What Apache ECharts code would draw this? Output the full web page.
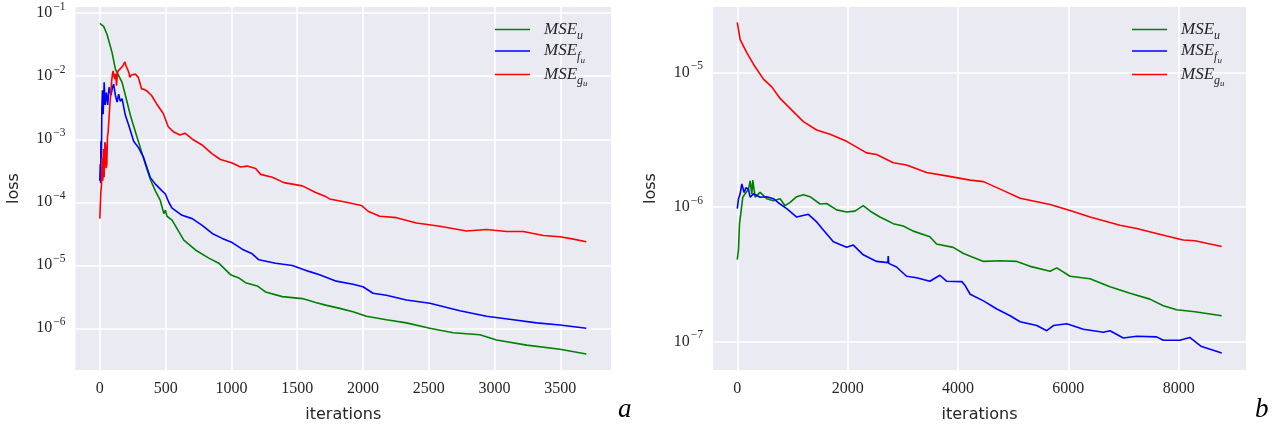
<!DOCTYPE html>
<html>
<head>
<meta charset="utf-8">
<script src="https://cdn.jsdelivr.net/npm/echarts@6/dist/echarts.min.js"></script>
<style>
  html, body { margin: 0; padding: 0; background: #fff; }
  #chart { width: 1283px; height: 428px; }
</style>
</head>
<body>
<div id="chart"></div>
<script>
// panel a : [iteration, loss]
const aMseU = [[0,6.9e-2],[29,6.2e-2],[55,4.6e-2],[93,2.37e-2],[118,1.3e-2],[169,8e-3],[194,5e-3],[232,2.4e-3],[270,1.32e-3],[308,7.3e-4],[346,4.0e-4],[384,2.3e-4],[422,1.52e-4],[460,1.06e-4],[486,6.6e-5],[498,7.5e-5],[510,6e-5],[549,5.2e-5],[638,2.5e-5],[727,1.75e-5],[828,1.3e-5],[904,1.08e-5],[993,7.1e-6],[1056,6.3e-6],[1107,5.3e-6],[1196,4.7e-6],[1259,3.77e-6],[1387,3.18e-6],[1539,2.96e-6],[1640,2.56e-6],[1716,2.33e-6],[1823,2.07e-6],[1924,1.83e-6],[2026,1.55e-6],[2178,1.37e-6],[2330,1.22e-6],[2508,1.0e-6],[2685,8.5e-7],[2888,7.9e-7],[3015,6.5e-7],[3244,5.4e-7],[3497,4.66e-7],[3697,3.9e-7]];
const aMseF = [[0,2.2e-4],[3,4e-4],[6,2.0e-4],[8,9.3e-4],[12,5e-4],[15,3.0e-3],[20,6e-3],[25,2.5e-3],[30,5e-3],[33,8e-3],[40,3.5e-3],[50,5.5e-3],[60,3.5e-3],[70,6.7e-3],[85,5e-3],[95,6.5e-3],[105,7.5e-3],[118,5e-3],[131,3.9e-3],[143,5.2e-3],[155,4.0e-3],[169,4.4e-3],[194,2.4e-3],[219,1.68e-3],[257,9.3e-4],[295,7.3e-4],[333,5.1e-4],[359,3.5e-4],[384,2.46e-4],[422,1.94e-4],[473,1.52e-4],[498,1.35e-4],[524,1.0e-4],[549,8.1e-5],[625,6.2e-5],[702,5.5e-5],[778,4.3e-5],[854,3.2e-5],[930,2.67e-5],[1006,2.29e-5],[1082,1.8e-5],[1158,1.52e-5],[1209,1.22e-5],[1336,1.08e-5],[1463,9.9e-6],[1589,8.0e-6],[1670,7.1e-6],[1797,5.6e-6],[1924,5.0e-6],[2000,4.56e-6],[2076,3.6e-6],[2178,3.34e-6],[2330,2.82e-6],[2508,2.5e-6],[2736,1.9e-6],[2939,1.55e-6],[3142,1.37e-6],[3320,1.22e-6],[3497,1.13e-6],[3697,1.0e-6]];
const aMseG = [[0,5.5e-5],[3,8.4e-5],[8,1.5e-4],[13,1.9e-4],[18,5.1e-4],[23,2.2e-4],[28,7e-4],[33,2.5e-4],[38,9e-4],[43,8.2e-4],[48,3.5e-4],[53,4e-4],[58,1.1e-3],[63,1.3e-3],[70,2.2e-3],[76,3.5e-3],[82,5e-3],[89,8e-3],[95,1.05e-2],[101,1.22e-2],[108,1.0e-2],[114,9e-3],[120,1.1e-2],[127,7.1e-3],[133,1.1e-2],[139,1.22e-2],[152,1.3e-2],[165,1.38e-2],[178,1.5e-2],[190,1.69e-2],[200,1.45e-2],[210,1.3e-2],[220,1.15e-2],[228,9.6e-3],[240,1.05e-2],[254,1.12e-2],[270,1.08e-2],[292,9.6e-3],[305,7.8e-3],[317,6.3e-3],[335,6.2e-3],[355,5.9e-3],[393,4.95e-3],[431,3.67e-3],[482,2.57e-3],[520,1.58e-3],[558,1.32e-3],[609,1.17e-3],[647,1.25e-3],[710,9.8e-4],[774,8.2e-4],[854,5.85e-4],[917,4.77e-4],[1006,4.2e-4],[1069,3.62e-4],[1120,3.75e-4],[1184,3.44e-4],[1222,2.77e-4],[1311,2.5e-4],[1399,2.05e-4],[1539,1.82e-4],[1640,1.43e-4],[1716,1.23e-4],[1747,1.13e-4],[1874,1.0e-4],[1988,8.9e-5],[2039,7.2e-5],[2127,6.0e-5],[2254,5.7e-5],[2406,4.7e-5],[2584,4.17e-5],[2787,3.5e-5],[2939,3.7e-5],[3091,3.43e-5],[3218,3.43e-5],[3371,2.97e-5],[3497,2.83e-5],[3600,2.6e-5],[3697,2.37e-5]];

// panel b : [iteration, loss]
const bMseU = [[0,4.05e-7],[22,4.8e-7],[40,7.5e-7],[64,8.9e-7],[100,1.18e-6],[142,1.25e-6],[203,1.35e-6],[233,1.56e-6],[263,1.25e-6],[281,1.58e-6],[323,1.18e-6],[414,1.28e-6],[534,1.15e-6],[655,1.11e-6],[776,1.15e-6],[866,1.02e-6],[957,1.08e-6],[1077,1.19e-6],[1198,1.23e-6],[1319,1.19e-6],[1500,1.05e-6],[1620,1.06e-6],[1801,9.5e-7],[1982,9.15e-7],[2133,9.3e-7],[2283,1.02e-6],[2434,9.15e-7],[2585,8.4e-7],[2706,7.95e-7],[2827,7.5e-7],[3008,7.2e-7],[3189,6.6e-7],[3491,6.0e-7],[3611,5.3e-7],[3913,5.0e-7],[4100,4.5e-7],[4462,3.93e-7],[4764,3.97e-7],[5066,3.93e-7],[5307,3.61e-7],[5669,3.32e-7],[5790,3.52e-7],[6031,3.05e-7],[6393,2.92e-7],[6755,2.55e-7],[7117,2.28e-7],[7479,2.06e-7],[7721,1.84e-7],[7962,1.72e-7],[8294,1.66e-7],[8780,1.55e-7]];
const bMseF = [[0,9.7e-7],[22,1.15e-6],[52,1.25e-6],[82,1.48e-6],[124,1.28e-6],[160,1.39e-6],[203,1.35e-6],[233,1.18e-6],[293,1.25e-6],[414,1.18e-6],[534,1.19e-6],[655,1.15e-6],[776,1.05e-6],[896,9.7e-7],[1077,8.4e-7],[1288,8.8e-7],[1439,7.73e-7],[1560,6.72e-7],[1741,5.5e-7],[1982,5.0e-7],[2103,5.2e-7],[2283,4.4e-7],[2525,3.93e-7],[2730,3.85e-7],[2736,4.3e-7],[2745,3.8e-7],[2887,3.57e-7],[3068,3.05e-7],[3249,2.97e-7],[3491,2.8e-7],[3672,3.1e-7],[3792,2.8e-7],[4070,2.78e-7],[4130,2.6e-7],[4221,2.24e-7],[4462,2.0e-7],[4704,1.74e-7],[4945,1.55e-7],[5126,1.4e-7],[5428,1.31e-7],[5609,1.2e-7],[5729,1.31e-7],[5971,1.35e-7],[6273,1.23e-7],[6635,1.17e-7],[6755,1.2e-7],[6997,1.06e-7],[7238,1.09e-7],[7600,1.08e-7],[7721,1.02e-7],[8022,1.02e-7],[8200,1.07e-7],[8402,9.2e-8],[8780,8.2e-8]];
const bMseG = [[0,2.35e-5],[52,1.75e-5],[172,1.4e-5],[293,1.15e-5],[474,8.9e-6],[625,7.8e-6],[776,6.4e-6],[957,5.4e-6],[1198,4.3e-6],[1439,3.73e-6],[1681,3.47e-6],[1982,3.07e-6],[2344,2.52e-6],[2525,2.45e-6],[2827,2.13e-6],[3068,2.05e-6],[3430,1.8e-6],[3792,1.7e-6],[4221,1.58e-6],[4462,1.54e-6],[4824,1.32e-6],[5126,1.16e-6],[5669,1.04e-6],[6031,9.4e-7],[6393,8.4e-7],[6936,7.3e-7],[7238,6.9e-7],[7781,6.07e-7],[8082,5.67e-7],[8294,5.6e-7],[8780,5.07e-7]];

const seriesNames = ['MSE_u', 'MSE_fu', 'MSE_gu'];
const lineColors = ['#008000', '#0000ff', '#ff0000'];

const textColor = '#262626';
const serif = 'Liberation Serif';

let chart = echarts.init(document.getElementById('chart'));

// 10^-n tick labels
function powLabel (v) {
  let e = Math.round(Math.log10(v));
  return '{b|10}{e|' + (e < 0 ? '\u2212' + (-e) : e) + '}';
}
const powRich = {
  b: { fontFamily: serif, fontSize: 16, color: textColor },
  e: { fontFamily: serif, fontSize: 11.5, color: textColor, padding: [0, 0, 12, 1] }
};

function legendLabel (name) {
  if (name === 'MSE_u') return '{m|MSE}{s|u}';
  if (name === 'MSE_fu') return '{m|MSE}{s|f}{ss|u}';
  return '{m|MSE}{s|g}{ss|u}';
}
const legendRich = {
  m: { fontFamily: serif, fontStyle: 'italic', fontSize: 17, color: textColor },
  s: { fontFamily: serif, fontStyle: 'italic', fontSize: 12, color: textColor, padding: [12, 0, 0, 0] },
  ss: { fontFamily: serif, fontStyle: 'italic', fontSize: 9, color: textColor, padding: [19, 0, 0, 0] }
};

function xAxis (idx, min, max, split) {
  return {
    type: 'value', gridIndex: idx, min: min, max: max, splitNumber: split,
    name: 'iterations', nameLocation: 'middle', nameGap: 37,
    nameTextStyle: { fontFamily: 'DejaVu Sans', fontSize: 16, color: textColor },
    axisLine: { show: false },
    axisTick: { show: false },
    axisLabel: {
      showMinLabel: false, showMaxLabel: false, margin: 11,
      formatter: function (v) { return String(v); },
      fontFamily: serif, fontSize: 16, color: textColor
    },
    splitLine: { show: true, showMinLine: false, showMaxLine: false, lineStyle: { color: '#ffffff', width: 1.6 } }
  };
}

function yAxis (idx, min, max) {
  return {
    type: 'log', logBase: 10, gridIndex: idx, min: min, max: max,
    name: 'loss', nameLocation: 'middle', nameGap: 54, nameRotate: 90,
    nameTextStyle: { fontFamily: 'DejaVu Sans', fontSize: 16, color: textColor },
    axisLine: { show: false },
    axisTick: { show: false },
    axisLabel: {
      showMinLabel: false, showMaxLabel: false, margin: 10,
      formatter: powLabel, rich: powRich
    },
    splitLine: { show: true, showMinLine: false, showMaxLine: false, lineStyle: { color: '#ffffff', width: 1.6 } },
    minorSplitLine: { show: false }
  };
}

function lineSeries (name, idx, data, color) {
  return {
    name: name, type: 'line', xAxisIndex: idx, yAxisIndex: idx,
    data: data, symbol: 'none', animation: false,
    lineStyle: { color: color, width: 1.6 },
    itemStyle: { color: color }
  };
}

function legend (left) {
  return {
    data: seriesNames, orient: 'vertical', left: left, top: 16,
    itemWidth: 35, itemHeight: 10, itemGap: 1,
    icon: 'path://M0,0 L35,0 L35,1.5 L0,1.5 Z',
    formatter: legendLabel,
    textStyle: { rich: legendRich, padding: [0, 0, 0, 9] }
  };
}

let option = {
  backgroundColor: '#ffffff',
  animation: false,
  grid: [
    { left: 75.5, right: 672, top: 7, bottom: 53, show: true, backgroundColor: '#EAEAF2', borderWidth: 0 },
    { left: 713, right: 37, top: 7, bottom: 53, show: true, backgroundColor: '#EAEAF2', borderWidth: 0 }
  ],
  xAxis: [xAxis(0, -185, 3885, 8), xAxis(1, -440, 9220, 5)],
  yAxis: [yAxis(0, Math.pow(10, -6.662), Math.pow(10, -0.901)), yAxis(1, Math.pow(10, -7.213), Math.pow(10, -4.514))],
  legend: [legend(490), legend(1127)],
  series: [
    lineSeries(seriesNames[0], 0, aMseU, lineColors[0]),
    lineSeries(seriesNames[1], 0, aMseF, lineColors[1]),
    lineSeries(seriesNames[2], 0, aMseG, lineColors[2]),
    lineSeries(seriesNames[0], 1, bMseU, lineColors[0]),
    lineSeries(seriesNames[1], 1, bMseF, lineColors[1]),
    lineSeries(seriesNames[2], 1, bMseG, lineColors[2])
  ],
  graphic: [
    { type: 'text', left: 618, top: 396, style: { text: 'a', fontFamily: serif, fontStyle: 'italic', fontSize: 27, fill: '#000' } },
    { type: 'text', left: 1255, top: 396, style: { text: 'b', fontFamily: serif, fontStyle: 'italic', fontSize: 27, fill: '#000' } }
  ]
};

chart.setOption(option);
</script>
</body>
</html>
